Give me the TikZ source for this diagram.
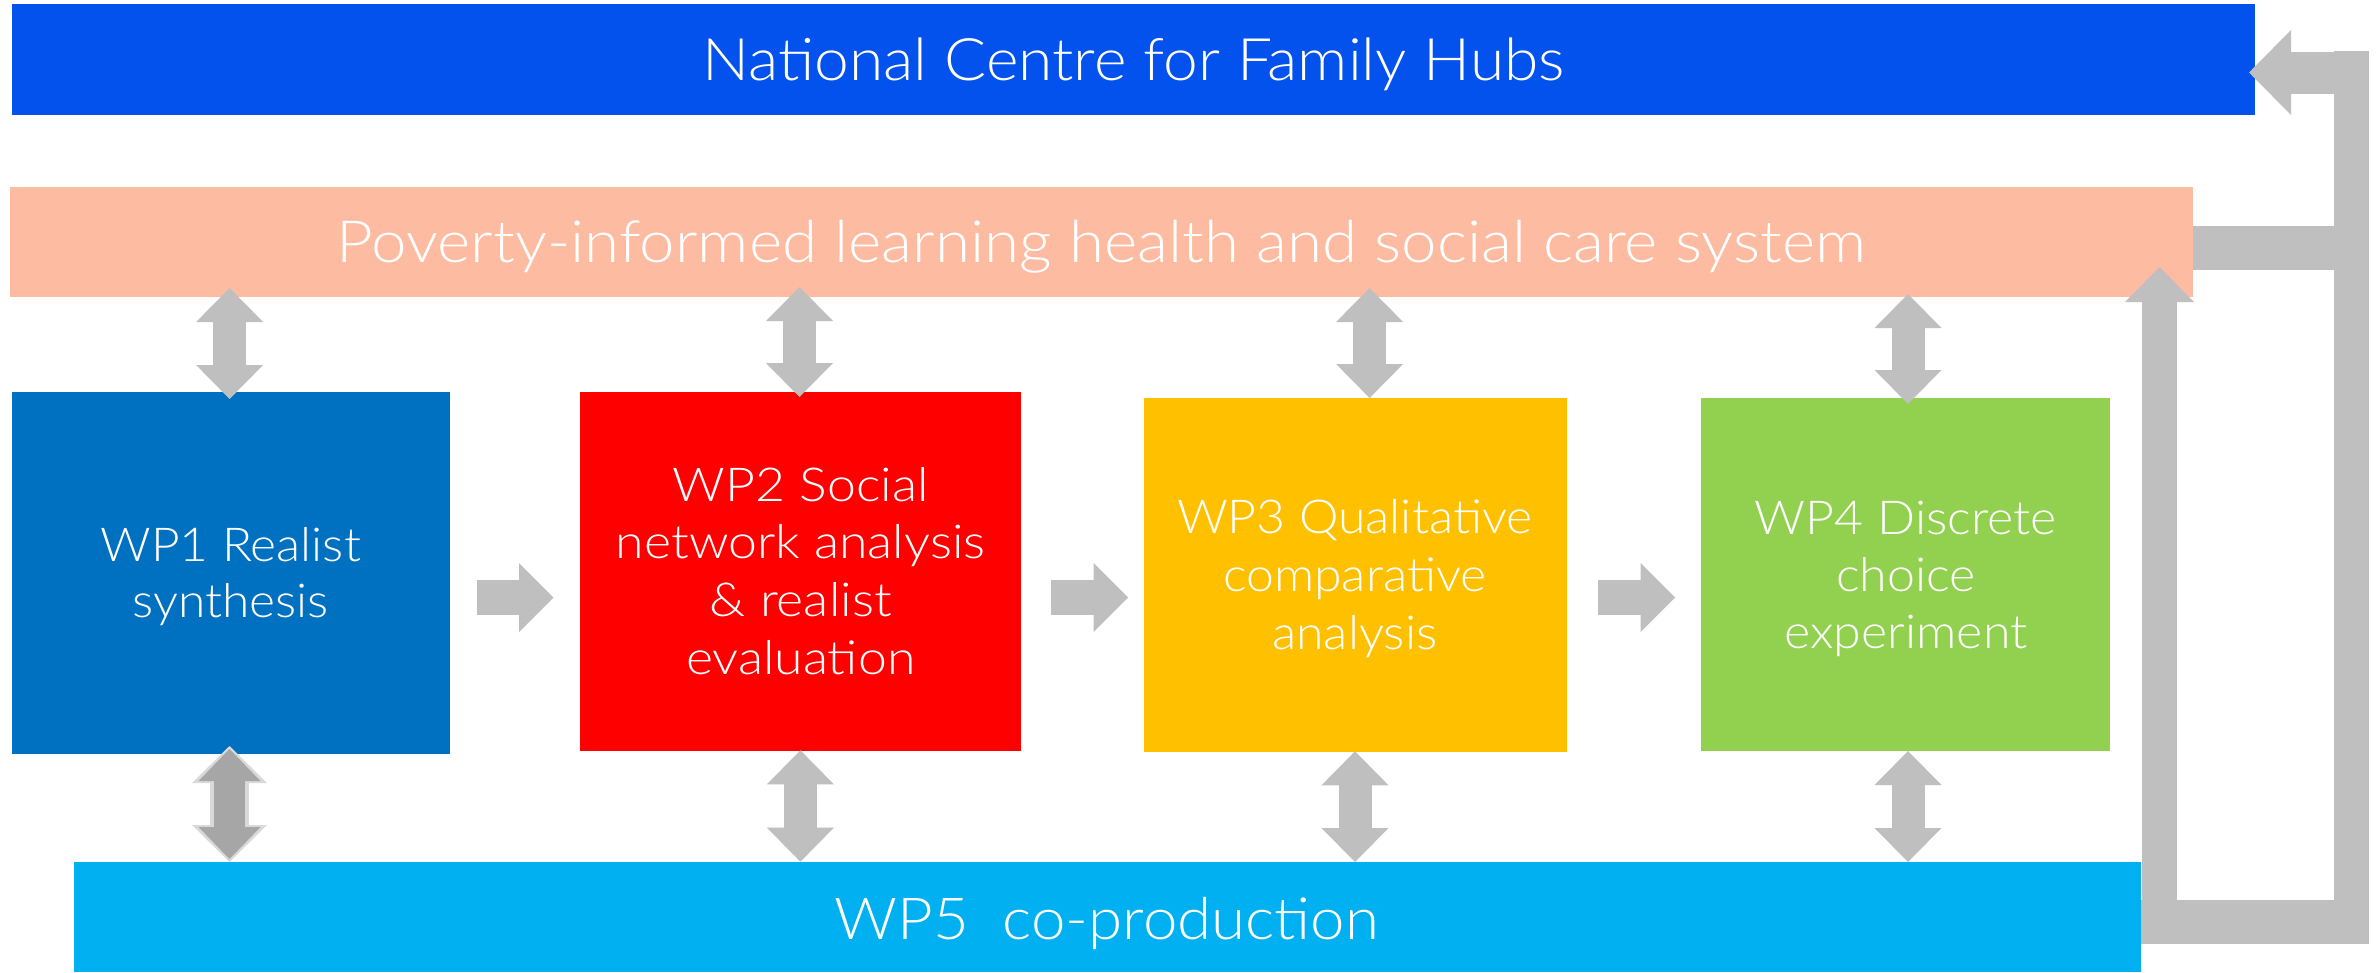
\documentclass[tikz,border=0pt]{standalone}
\usepackage{fontspec}
\usepackage{graphicx}
\IfFontExistsTF{Lato Light}{\setmainfont{Lato Light}}{%
  \IfFontExistsTF{Fira Sans Light}{\setmainfont{Fira Sans Light}}{\setmainfont{Lato}}}
\usetikzlibrary{arrows.meta}

\definecolor{hubblue}{RGB}{3,82,238}
\definecolor{salmon}{RGB}{253,187,162}
\definecolor{wpone}{RGB}{0,112,192}
\definecolor{wptwo}{RGB}{255,0,0}
\definecolor{wpthree}{RGB}{255,192,0}
\definecolor{wpfour}{RGB}{146,208,80}
\definecolor{wpfive}{RGB}{0,176,240}
\definecolor{arrowgray}{RGB}{191,191,191}
\definecolor{arrowdark}{RGB}{166,166,166}
\definecolor{arrowhalo}{RGB}{217,217,217}

% centred lines, squeezed or stretched horizontally to a given width
% #1 width, #2 font size, #3 line spacing, #4 text
\newcommand\wplabel[4]{%
  \fontsize{#2}{#3}\selectfont
  \resizebox{#1}{\height}{\begin{tabular}[t]{@{}c@{}}#4\end{tabular}}}

\tikzset{
  panel/.style={fill=#1, inner sep=0pt, outer sep=0pt, anchor=north west},
  lbl/.style={text=white, inner sep=0pt, anchor=base},
  dbl/.style={draw=arrowgray, line width=33pt,
    {Triangle[length=34pt,width=67pt,line width=0pt]}-{Triangle[length=34pt,width=67pt,line width=0pt]}},
  dblhalo/.style={draw=arrowhalo, line width=39pt,
    {Triangle[length=37pt,width=75pt,line width=0pt]}-{Triangle[length=37pt,width=75pt,line width=0pt]}},
  dbldark/.style={draw=arrowdark, line width=31pt,
    {Triangle[length=32pt,width=62pt,line width=0pt]}-{Triangle[length=32pt,width=62pt,line width=0pt]}},
  fwd/.style={draw=arrowgray, line width=35pt,
    -{Triangle[length=34.5pt,width=69pt,line width=0pt]}},
}

\begin{document}
\begin{tikzpicture}[x=1pt,y=-1pt]
  \useasboundingbox[fill=white] (0,0) rectangle (2376,972);

  % bands and work-package boxes
  \node[panel=hubblue, minimum width=2243pt, minimum height=110.4pt] (ncfh) at (12,4.3) {};
  \node[panel=salmon,  minimum width=2183pt, minimum height=110pt]   (plhs) at (10,186.5) {};
  \node[panel=wpone,   minimum width=438pt,  minimum height=362pt]   (wp1)  at (12,392) {};
  \node[panel=wptwo,   minimum width=441pt,  minimum height=359.5pt] (wp2)  at (580,391.5) {};
  \node[panel=wpthree, minimum width=423pt,  minimum height=353.5pt] (wp3)  at (1144,398) {};
  \node[panel=wpfour,  minimum width=409pt,  minimum height=353pt]   (wp4)  at (1701,398) {};
  \node[panel=wpfive,  minimum width=2067pt, minimum height=110pt]   (wp5)  at (74,862) {};

  % labels
  \node[lbl] (ncfhT) at (1133.75,80) {\wplabel{862.5pt}{58.6}{70}{National Centre for Family Hubs}};
  \node[lbl] (plhsT) at (1101.35,262.3) {\wplabel{1529pt}{58.2}{70}{Poverty-informed learning health and social care system}};
  \node[lbl] (wp1T) at (230.85,561.7) {\wplabel{260.3pt}{46.8}{55.8}{WP1 Realist\\synthesis}};
  \node[lbl] (wp2T) at (800.7,501) {\wplabel{369.5pt}{46.8}{57.7}{WP2 Social\\network analysis\\\& realist\\evaluation}};
  \node[lbl] (wp3T) at (1354.8,533) {\wplabel{355.5pt}{46.8}{58}{WP3 Qualitative\\comparative\\analysis}};
  \node[lbl] (wp4T) at (1905.8,534) {\wplabel{301.7pt}{46.8}{57}{WP4 Discrete\\choice\\experiment}};
  \node[lbl] (wp5T) at (1107,939.3) {\wplabel{544.5pt}{58}{70}{WP5~~co-production}};

  % feedback loop on the right
  \fill[arrowgray] (wp5.east |- 0,900) rectangle (2369,943.5);
  \fill[arrowgray] (2334,51) rectangle (2369,943.5);
  \fill[arrowgray] (plhs.east |- 0,226) rectangle (2334,270);
  \coordinate (loopTop) at (2369,72.5);
  \coordinate (loopFoot) at (2159.5,943.5);
  \draw[draw=arrowgray, line width=42pt, shorten >=-6pt,
        -{Triangle[length=42pt,width=85pt,line width=0pt]}]
    (loopTop) -- (ncfh.east |- loopTop);
  \draw[draw=arrowgray, line width=35pt, shorten >=-29.5pt,
        -{Triangle[length=35pt,width=69pt,line width=0pt]}]
    (loopFoot) -- (plhs.south -| loopFoot);

  % flow between work packages
  \draw[fwd, shorten <=26.6pt, shorten >=26.5pt] (wp1.east |- 0,597.5) -- (wp2.west |- 0,597.5);
  \draw[fwd, shorten <=30pt, shorten >=16pt]   (wp2.east |- 0,597.5) -- (wp3.west |- 0,597.5);
  \draw[fwd, shorten <=31pt, shorten >=26pt]   (wp3.east |- 0,597.5) -- (wp4.west |- 0,597.5);

  % links to the learning system band
  \draw[dbl, shorten <=-8.5pt, shorten >=-7pt]   (plhs.south -| 229.6,0) -- (wp1.north -| 229.6,0);
  \draw[dbl, shorten <=-9.5pt, shorten >=-5.5pt] (plhs.south -| 799.5,0) -- (wp2.north -| 799.5,0);
  \draw[dbl, shorten <=-8.5pt, shorten >=0pt]    (plhs.south -| 1369.6,0) -- (wp3.north -| 1369.6,0);
  \draw[dbl, shorten <=-2.5pt, shorten >=-6pt]   (plhs.south -| 1908,0) -- (wp4.north -| 1908,0);

  % links to co-production
  \draw[dblhalo, shorten <=-8pt, shorten >=0pt] (wp1.south -| 229.5,0) -- (wp5.north -| 229.5,0);
  \draw[dbldark, shorten <=-5pt, shorten >=3pt]  (wp1.south -| 229.5,0) -- (wp5.north -| 229.5,0);
  \draw[dbl, shorten <=-0.7pt, shorten >=0.3pt] (wp2.south -| 800.4,0) -- (wp5.north -| 800.4,0);
  \draw[dbl, shorten <=-0.2pt, shorten >=0pt]   (wp3.south -| 1355,0) -- (wp5.north -| 1355,0);
  \draw[dbl, shorten <=0pt, shorten >=0pt]      (wp4.south -| 1908,0) -- (wp5.north -| 1908,0);
\end{tikzpicture}
\end{document}
